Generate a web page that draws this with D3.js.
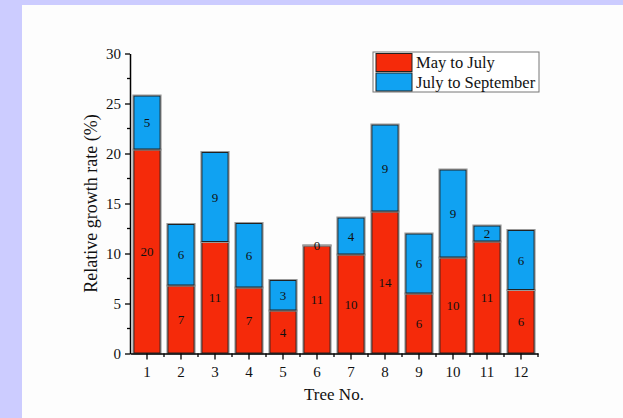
<!DOCTYPE html>
<html>
<head>
<meta charset="utf-8">
<script src="https://cdn.jsdelivr.net/npm/d3@7"></script>
<style>
  html, body { margin: 0; padding: 0; background: #ccccff; }
  svg { display: block; }
  text { font-family: "Liberation Serif", "Times New Roman", serif; fill: #111; }
</style>
</head>
<body>
<svg id="chart" width="623" height="418"></svg>
<script>
// Tree numbers and the two growth periods (relative growth rate, %)
const trees = ["1", "2", "3", "4", "5", "6", "7", "8", "9", "10", "11", "12"];
const mayToJuly = [20.4, 6.8, 11.15, 6.6, 4.3, 10.8, 9.9, 14.2, 6.0, 9.6, 11.2, 6.35];
const julyToSeptember = [5.4, 6.15, 9.0, 6.45, 3.05, 0.0, 3.7, 8.7, 6.0, 8.8, 1.6, 6.0];
const seriesNames = ["May to July", "July to September"];
const seriesColors = ["#f52a0a", "#10a2f2"];
const yTicks = [0, 5, 10, 15, 20, 25, 30];

const svg = d3.select("#chart");
const W = 623, H = 418;

// white plotting page with a lavender margin at left and top
svg.append("rect").attr("x", 22).attr("y", 5).attr("width", W - 22).attr("height", H - 5)
  .attr("fill", "#fdfdfd");

const x0 = 130, x1 = 538, yBottom = 353.5, yTop = 53.5;

const x = d3.scaleBand().domain(trees).range([x0, x1]).paddingInner(0.2).paddingOuter(0.1);
const y = d3.scaleLinear().domain([0, 30]).range([yBottom, yTop]);

const rows = trees.map((t, i) => ({ tree: t, a: mayToJuly[i], b: julyToSeptember[i] }));
const stack = d3.stack().keys(["a", "b"])(rows);

const g = svg.append("g");

stack.forEach((layer, li) => {
  const lg = g.append("g");
  lg.selectAll("rect.shadow").data(layer).join("rect")
    .attr("x", d => x(d.data.tree) - 0.5)
    .attr("y", d => y(d[1]) - 0.5)
    .attr("width", x.bandwidth() + 1)
    .attr("height", d => Math.max(0, y(d[0]) - y(d[1])) + 1)
    .attr("fill", "none")
    .attr("stroke", "#9a9a9a")
    .attr("stroke-width", 1);
  lg.selectAll("rect.bar").data(layer).join("rect")
    .attr("x", d => x(d.data.tree) + 0.5)
    .attr("y", d => y(d[1]) + 0.5)
    .attr("width", x.bandwidth() - 1)
    .attr("height", d => Math.max(0, y(d[0]) - y(d[1]) - 1))
    .attr("fill", seriesColors[li])
    .attr("stroke", "#222")
    .attr("stroke-width", 1);
});

// value labels, centred in each segment
stack.forEach(layer => {
  g.append("g").selectAll("text").data(layer).join("text")
    .attr("x", d => x(d.data.tree) + x.bandwidth() / 2)
    .attr("y", d => (y(d[0]) + y(d[1])) / 2)
    .attr("dy", "0.35em")
    .attr("text-anchor", "middle")
    .style("font-size", "13px")
    .text(d => d3.format(".0f")(d[1] - d[0]));
});

// y axis with minor ticks
const yAxis = g.append("g").attr("transform", `translate(${x0},0)`);
yAxis.call(d3.axisLeft(y).tickValues(yTicks).tickSize(5).tickPadding(4).tickSizeOuter(0));
yAxis.append("g").selectAll("line").data(d3.range(2.5, 30, 5)).join("line")
  .attr("x1", 0).attr("x2", -3).attr("y1", d => y(d)).attr("y2", d => y(d))
  .attr("stroke", "#000").attr("stroke-width", 1.3);
yAxis.select(".domain").attr("stroke-width", 1.5);
yAxis.selectAll(".tick line").attr("stroke-width", 1.3);
yAxis.selectAll(".tick text").attr("font-size", null).style("font-size", "15px").style("font-family", "Liberation Serif, serif").attr("fill", "#111");

// x axis: long ticks at bar centres, short ticks at band boundaries
const xAxis = g.append("g").attr("transform", `translate(0,${yBottom})`);
xAxis.call(d3.axisBottom(x).tickSize(6).tickPadding(7).tickSizeOuter(0));
const step = x.step();
xAxis.append("g").selectAll("line").data(d3.range(1, trees.length + 1)).join("line")
  .attr("x1", i => x(trees[0]) - x.paddingInner() * step / 2 + i * step)
  .attr("x2", i => x(trees[0]) - x.paddingInner() * step / 2 + i * step)
  .attr("y1", 0).attr("y2", 3.5)
  .attr("stroke", "#000").attr("stroke-width", 1.3);
xAxis.select(".domain").attr("stroke-width", 1.5);
xAxis.selectAll(".tick line").attr("stroke-width", 1.3);
xAxis.selectAll(".tick text").style("font-size", "15px").style("font-family", "Liberation Serif, serif").attr("fill", "#111");

// axis titles
svg.append("text")
  .attr("transform", `translate(97,${(yTop + yBottom) / 2}) rotate(-90)`)
  .attr("text-anchor", "middle")
  .style("font-size", "18px")
  .text("Relative growth rate (%)");
svg.append("text")
  .attr("x", (x0 + x1) / 2).attr("y", 400)
  .attr("text-anchor", "middle")
  .style("font-size", "17px")
  .text("Tree No.");

// legend
const legend = svg.append("g").attr("transform", "translate(373,52)");
legend.append("rect").attr("width", 166).attr("height", 40)
  .attr("fill", "#fff").attr("stroke", "#777").attr("stroke-width", 1);
seriesNames.forEach((name, i) => {
  const row = legend.append("g").attr("transform", `translate(3,${1.5 + i * 19.5})`);
  row.append("rect").attr("width", 36).attr("height", 18)
    .attr("fill", seriesColors[i]).attr("stroke", "#222").attr("stroke-width", 1);
  row.append("text").attr("x", 40).attr("y", 9).attr("dy", "0.35em")
    .style("font-size", "16.5px").text(name);
});
</script>
</body>
</html>
